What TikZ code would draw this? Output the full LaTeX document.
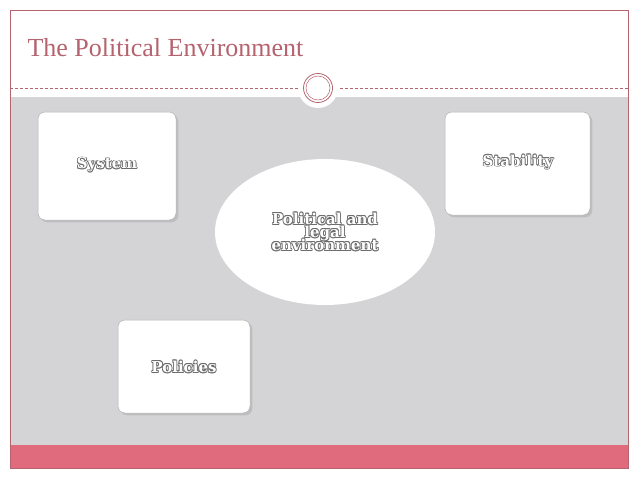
\documentclass[tikz,border=0pt]{standalone}
\usepackage{fontspec}
\setmainfont{Liberation Serif}
\newfontfamily\slab{DejaVu Serif}
\usetikzlibrary{arrows.meta,shapes.geometric,shadows}
\definecolor{rose}{HTML}{B5636E}
\definecolor{bandpink}{HTML}{E06B7D}
\definecolor{slidegray}{HTML}{D4D4D6}
\definecolor{arrgray}{HTML}{A3A3A3}
\newcommand\otext[3]{%
  \foreach \dx/\dy in {-0.8/0,0.8/0,0/0.8,0/-0.8,0.6/0.6,-0.6/0.6,0.6/-0.6,-0.6/-0.6}
    {\node[lbl,text=gray!85!black] at ([shift={(\dx pt,\dy pt)}]#1) {#3};}
  \node[lbl,text=white] (#2) at (#1) {#3};}
\begin{document}
\begin{tikzpicture}[x=1pt,y=-1pt,
  lbl/.style={font=\slab\bfseries\fontsize{15}{15}\selectfont,align=center},
  box/.style={draw=gray!60,fill=white,rounded corners=7pt,line width=0.5pt,drop shadow={opacity=0.25}},
  barrow/.style={draw=none,arrgray,line width=17pt,-{Triangle[width=36pt,length=24pt]}}]
\useasboundingbox (0,0) rectangle (638,479);
\fill[white] (0,0) rectangle (638,479);
\fill[slidegray] (10,97) rectangle (628,445);
\fill[bandpink] (10,445) rectangle (628,468);
\draw[rose,line width=0.6pt] (10,10) rectangle (628,468);
\draw[rose,densely dashed,line width=0.4pt] (10,88) -- (628,88);
\fill[white] (318,88) circle (20);
\node[circle,draw=rose,line width=0.8pt,minimum size=29pt,inner sep=0pt] (ring) at (318,88) {};
\draw[rose,line width=0.5pt] (318,88) circle (12);
\node[anchor=west,text=rose,font=\fontsize{26}{26}\selectfont] (title) at (24,48) {The Political Environment};
\draw[box] (38,112) rectangle (176,220);
\draw[box] (445,112) rectangle (590,215);
\draw[box] (118,320) rectangle (250,413);
\node[ellipse,draw=none,fill=white,minimum width=220pt,minimum height=146pt] (env) at (325,232) {};
\coordinate (s1) at (178,183); \coordinate (e1) at (248,212);
\coordinate (s2) at (447,197); \coordinate (e2) at (396,232);
\coordinate (s3) at (246,345); \coordinate (e3) at (300,282);
\draw[barrow] (s1) -- (e1);
\draw[barrow] (s2) -- (e2);
\draw[barrow] (s3) -- (e3);
\otext{107,165}{sys}{System}
\otext{518,162}{stab}{Stability}
\otext{184,367}{pol}{Policies}
\otext{325,232}{envt}{Political and\\[-2pt]legal\\[-2pt]environment}
\end{tikzpicture}
\end{document}
